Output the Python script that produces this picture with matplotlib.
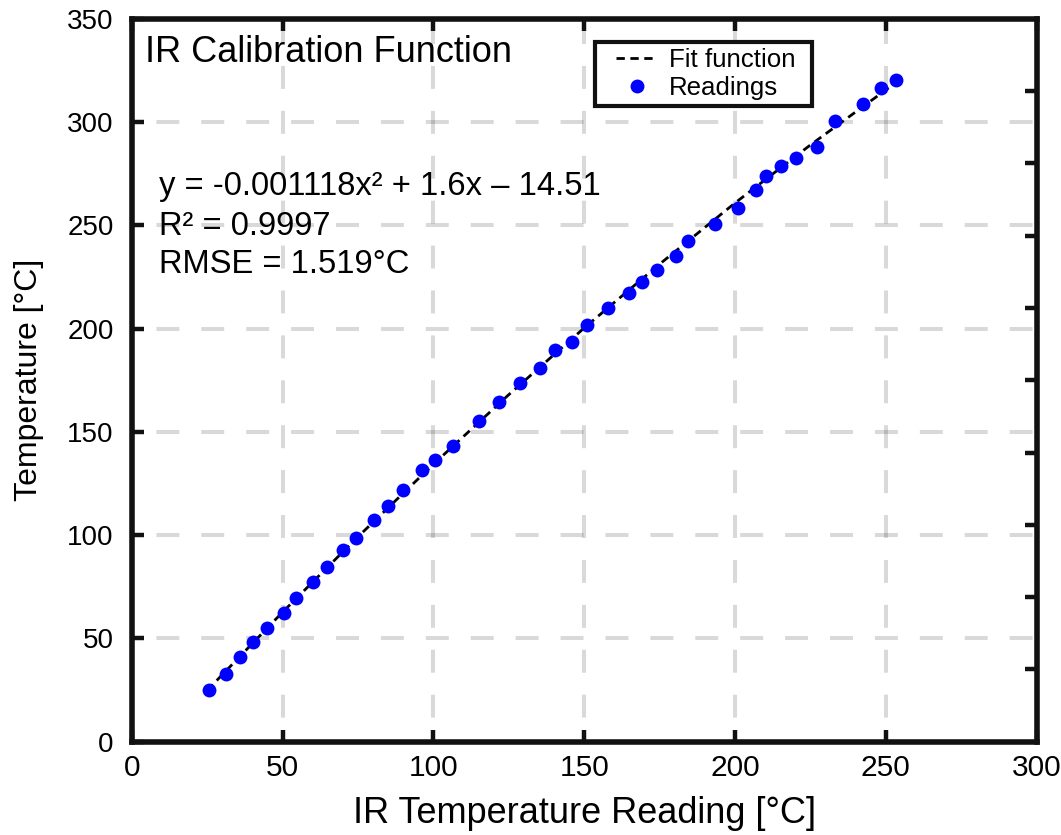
import numpy as np
import matplotlib
matplotlib.use("Agg")
import matplotlib.pyplot as plt
from matplotlib.patches import Rectangle

plt.rcParams['font.family'] = ['Liberation Sans', 'DejaVu Sans']

# readings (IR reading vs. reference temperature)
ir_reading = [25.6, 31.3, 36.0, 40.3, 45.0, 50.4, 54.5, 60.0, 64.6, 69.9,
              74.4, 80.4, 85.0, 90.1, 96.1, 100.6, 106.5, 115.1, 121.7, 128.6,
              135.4, 140.4, 145.8, 150.9, 157.8, 164.8, 169.3, 174.3, 180.5, 184.3,
              193.4, 200.9, 207.0, 210.3, 215.2, 220.2, 227.2, 233.1, 242.3, 248.3,
              253.5]
temperature = [24.8, 33.0, 40.8, 48.2, 55.0, 62.4, 69.4, 77.4, 84.8, 92.7,
               98.8, 107.5, 114.1, 121.8, 131.3, 136.5, 143.1, 155.2, 164.6, 173.5,
               181.0, 189.6, 193.7, 201.9, 209.9, 217.0, 222.6, 228.3, 235.3, 242.3,
               250.6, 258.6, 266.9, 273.8, 278.8, 282.5, 287.8, 300.5, 308.9, 316.3,
               320.3]

# fit curve
fit_x = [25, 50, 75, 100, 125, 150, 175, 200, 225, 254]
fit_y = [24.8, 62.7, 99.2, 134.3, 168.0, 200.3, 231.2, 260.8, 288.9, 319.8]

x_ticks = [0, 50, 100, 150, 200, 250, 300]
y_ticks = [0, 50, 100, 150, 200, 250, 300, 350]
right_ticks = [35, 70, 105, 140, 175, 210, 245, 280, 315]

title_text = "IR Calibration Function"
fit_lines = ["y = -0.001118x\u00b2 + 1.6x \u2013 14.51",
             "R\u00b2 = 0.9997",
             "RMSE = 1.519\u00b0C"]

fig = plt.figure(figsize=(10.61, 8.35), dpi=100)
ax = fig.add_axes([0.1241, 0.1117, 0.8530, 0.8659])

ax.plot(fit_x, fit_y, color='black', lw=2.0, linestyle=(0, (3, 2)),
        label='Fit function', zorder=3)
ax.plot(ir_reading, temperature, 'o', color='#0000ff', markersize=10,
        markeredgewidth=0, label='Readings', zorder=4)

ax.set_xlim(0, 300)
ax.set_ylim(0, 350)
ax.set_xticks(x_ticks)
ax.set_yticks(y_ticks)

ax.set_axisbelow(True)
ax.grid(True, color='black', alpha=0.15, lw=2.9,
        linestyle=(5.1, (5.7, 5.45)))

for sp in ax.spines.values():
    sp.set_linewidth(4.0)
    sp.set_color('#111111')

ax.tick_params(axis='both', direction='in', length=8.5, width=3.2,
               color='#111111', top=True, right=False)
ax.tick_params(axis='x', labelsize=21.5, pad=9)
ax.tick_params(axis='y', labelsize=20, pad=13)

ax2 = ax.twinx()
ax2.set_ylim(0, 350)
ax2.set_yticks(right_ticks)
ax2.tick_params(axis='y', direction='in', length=8.5, width=3.2,
                color='#111111', labelright=False)
for sp in ax2.spines.values():
    sp.set_visible(False)

ax.set_xlabel("IR Temperature Reading [\u00b0C]", fontsize=26, labelpad=10)
ax.set_ylabel("Temperature [\u00b0C]", fontsize=23, labelpad=17)

ax.text(0.0143, 0.9405, title_text, transform=ax.transAxes,
        fontsize=26, va='baseline', ha='left')
for yy, line in zip([0.7562, 0.7008, 0.6479], fit_lines):
    ax.text(0.0302, yy, line, transform=ax.transAxes,
            fontsize=23.6, va='baseline', ha='left')

# legend box drawn separately so it gets the wider side padding
ax2.add_patch(Rectangle((0.512, 0.8793), 0.2394, 0.0889, transform=ax.transAxes,
                        facecolor='white', edgecolor='#111111', lw=3.0,
                        zorder=5, clip_on=False))
leg = ax2.legend(*ax.get_legend_handles_labels(), loc='center left',
                 bbox_to_anchor=(0.5351, 0.9235), bbox_transform=ax.transAxes,
                 fontsize=18.6, frameon=False, handlelength=1.6,
                 handletextpad=0.45, borderpad=0, labelspacing=0.18,
                 borderaxespad=0)
leg.set_zorder(6)

fig.savefig("out.png", dpi=100)
